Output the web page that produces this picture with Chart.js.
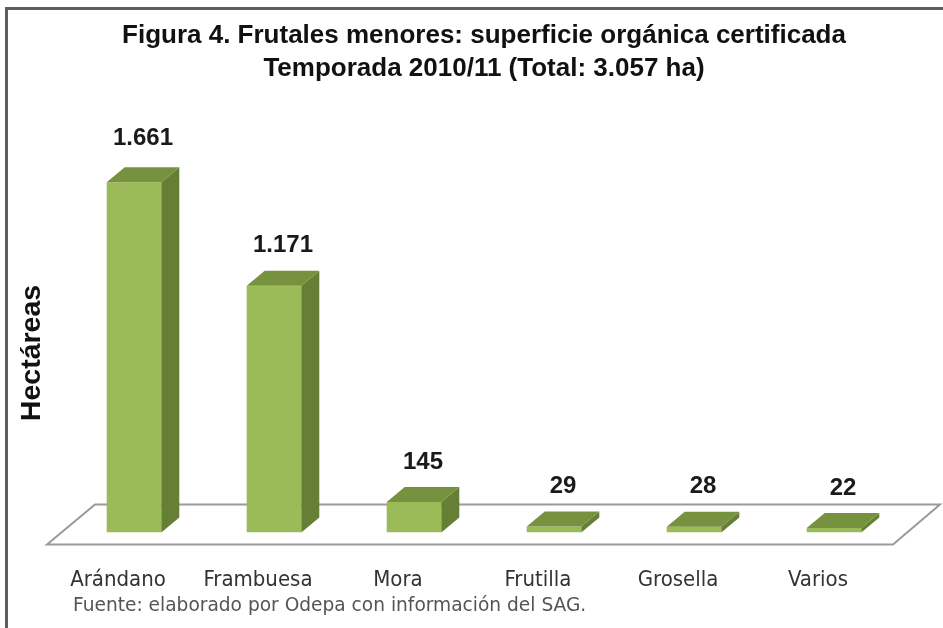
<!DOCTYPE html>
<html>
<head>
<meta charset="utf-8">
<script src="https://cdn.jsdelivr.net/npm/chart.js@4.4.1/dist/chart.umd.min.js"></script>
<style>
  body { margin: 0; background: #fff; }
  #frame-top { position: absolute; left: 5px; top: 7px; width: 938px; height: 3px; background: #5e5e5e; }
  #frame-left { position: absolute; left: 5px; top: 7px; width: 3px; height: 621px; background: #5e5e5e; }
  #chart { position: absolute; left: 0; top: 0; }
  #source { position: absolute; left: 73px; top: 594px; font: 18.6px 'DejaVu Sans', Verdana, sans-serif; color: #555; white-space: nowrap; }
</style>
</head>
<body>
<canvas id="chart" width="943" height="628"></canvas>
<div id="frame-top"></div>
<div id="frame-left"></div>
<div id="source">Fuente: elaborado por Odepa con información del SAG.</div>
<script>
var categories = ['Arándano', 'Frambuesa', 'Mora', 'Frutilla', 'Grosella', 'Varios'];
var hectareas = [1661, 1171, 145, 29, 28, 22];
var titleLines = ['Figura 4. Frutales menores: superficie orgánica certificada', 'Temporada 2010/11 (Total: 3.057 ha)'];
var yTitle = 'Hectáreas';

// depth of the fake 3D effect
var depthX = 18, depthY = 15;

function miles(v) {
    return String(v).replace(/\B(?=(\d{3})+(?!\d))/g, '.');
}

var bar3d = {
    id: 'bar3d',
    beforeDatasetsDraw: function(chart) {
        var ctx = chart.ctx, a = chart.chartArea;
        // floor
        ctx.save();
        ctx.beginPath();
        ctx.moveTo(a.left - 17, a.bottom + 12);
        ctx.lineTo(a.right - 11, a.bottom + 12);
        ctx.lineTo(a.right + 36, a.bottom - 28);
        ctx.lineTo(a.left + 31, a.bottom - 28);
        ctx.closePath();
        ctx.fillStyle = '#fff';
        ctx.fill();
        ctx.strokeStyle = '#9a9a9a';
        ctx.lineWidth = 2;
        ctx.stroke();
        ctx.restore();
    },
    afterDatasetsDraw: function(chart) {
        var ctx = chart.ctx;
        var meta = chart.getDatasetMeta(0);
        ctx.save();
        meta.data.forEach(function(bar, i) {
            var l = bar.x - bar.width / 2, r = bar.x + bar.width / 2;
            var top = bar.y, base = bar.base;
            // side
            ctx.beginPath();
            ctx.moveTo(r, top);
            ctx.lineTo(r + depthX, top - depthY);
            ctx.lineTo(r + depthX, base - depthY);
            ctx.lineTo(r, base);
            ctx.closePath();
            ctx.fillStyle = '#657f35';
            ctx.fill();
            // top
            ctx.beginPath();
            ctx.moveTo(l, top);
            ctx.lineTo(l + depthX, top - depthY);
            ctx.lineTo(r + depthX, top - depthY);
            ctx.lineTo(r, top);
            ctx.closePath();
            ctx.fillStyle = '#77923e';
            ctx.fill();
            // value
            ctx.fillStyle = '#1a1a1a';
            ctx.font = 'bold 24px "Liberation Sans", Arial, sans-serif';
            ctx.textAlign = 'center';
            ctx.textBaseline = 'middle';
            ctx.fillText(miles(hectareas[i]), bar.x + depthX / 2, top - depthY - (i === 0 ? 29 : 25));
        });
        // y title
        ctx.translate(32, 353);
        ctx.rotate(-Math.PI / 2);
        ctx.font = 'bold 28.5px "Liberation Sans", Arial, sans-serif';
        ctx.fillStyle = '#111';
        ctx.fillText(yTitle, 0, 0);
        ctx.restore();
    }
};

var ctx = document.getElementById('chart').getContext('2d');
var chart = new Chart(ctx, {
    type: 'bar',
    data: {
        labels: categories,
        datasets: [{
            data: hectareas,
            backgroundColor: '#9bbb59',
            borderWidth: 0,
            barPercentage: 0.39,
            categoryPercentage: 1
        }]
    },
    options: {
        responsive: false,
        animation: false,
        devicePixelRatio: 1,
        layout: { padding: { left: 64, right: 39, top: 12, bottom: 1 } },
        plugins: {
            legend: { display: false },
            tooltip: { enabled: false },
            title: {
                display: true,
                text: titleLines,
                color: '#111',
                font: { family: '"Liberation Sans", Arial, sans-serif', size: 26, weight: 'bold', lineHeight: 1.25 },
                padding: { top: 8, bottom: 10 }
            }
        },
        scales: {
            x: {
                grid: { display: false, drawTicks: false },
                border: { display: false },
                ticks: {
                    color: '#333',
                    padding: 34,
                    labelOffset: -16,
                    font: { family: '"DejaVu Sans Condensed", "Liberation Sans Narrow", sans-serif', size: 22 }
                }
            },
            y: {
                display: false,
                min: 0,
                max: 2075
            }
        }
    },
    plugins: [bar3d]
});
</script>
</body>
</html>
